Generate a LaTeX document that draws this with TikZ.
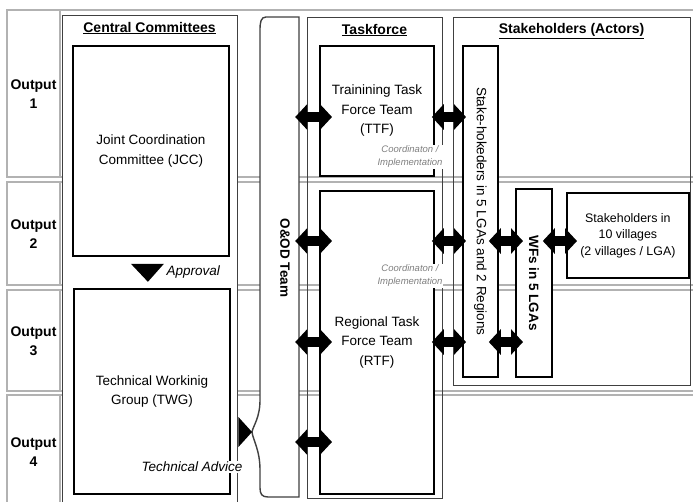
\documentclass[tikz,border=0pt]{standalone}
\usepackage{fontspec}
\setmainfont{Liberation Sans}
\usetikzlibrary{arrows.meta,calc}
\begin{document}
\begin{tikzpicture}[x=1pt,y=-1pt,
  band/.style={draw=gray!60, line width=1.1pt},
  colbox/.style={draw=black!75, line width=1.4pt, inner sep=0pt},
  inbox/.style={draw=black, line width=1.8pt, fill=white, inner sep=0pt, align=center, anchor=north west, font=\fontsize{13.5}{19.5}\selectfont},
  dbl/.style={line width=10pt, {Triangle[length=12pt,width=25pt]}-{Triangle[length=12pt,width=25pt]}},
  hdr/.style={font=\fontsize{14}{17}\selectfont\bfseries},
  outl/.style={font=\fontsize{14}{19}\selectfont\bfseries, align=center},
  vtxt/.style={rotate=-90, font=\fontsize{13.5}{16}\selectfont},
  note/.style={font=\fontsize{9.5}{13}\selectfont\itshape, text=gray, align=center, fill=white, inner sep=1pt},
  itl/.style={font=\fontsize{13.5}{16}\selectfont\itshape},
]
\useasboundingbox (0,0) rectangle (693,501);
\clip (0,0) rectangle (693,501);

% output bands
\draw[band] (7,10) rectangle (705,177);
\draw[band] (7,182) rectangle (705,285);
\draw[band] (7,290) rectangle (705,391);
\draw[band] (7,395) rectangle (705,510);
\foreach \a/\b in {10/177,182/285,290/391,395/510}{\draw[band] (60,\a) -- (60,\b);}
\node[outl] (o1) at (33.5,94) {Output\\1};
\node[outl] (o2) at (33.5,234) {Output\\2};
\node[outl] (o3) at (33.5,341) {Output\\3};
\node[outl] (o4) at (33.5,452) {Output\\4};

% columns
\node[colbox, fill=white, anchor=north west, minimum width=175pt, minimum height=500pt] (cc) at (62,15) {};
\node[hdr] (cch) at (149.5,28) {\underline{Central Committees}};

\node[draw=none, fill=none, inner sep=0pt, minimum width=39pt, minimum height=480pt] (ood) at (279.5,257) {};
\filldraw[colbox, fill=white] (299,17) -- (266,17) .. controls (261,17) and (260,22) .. (260,30) -- (260,400)
  .. controls (260,418) and (253,426) .. (252,432) .. controls (253,440) and (260,450) .. (260,470) -- (260,488)
  .. controls (260,494) and (262,497) .. (268,497) -- (299,497) -- cycle;
\node[vtxt, font=\fontsize{13.5}{16}\selectfont\bfseries] (oodt) at (285,258) {O\&OD Team};

\node[colbox, anchor=north west, minimum width=135pt, minimum height=481pt] (tf) at (307,17) {};
\node[hdr] (tfh) at (374.5,30) {\underline{Taskforce}};
\node[colbox, anchor=north west, minimum width=237pt, minimum height=368pt] (sh) at (453,17) {};
\node[hdr] (shh) at (571.5,31) {\underline{Stakeholders (Actors)}};

% inner boxes
\node[inbox, minimum width=156pt, minimum height=210pt] (jcc) at (72,45) {Joint Coordination\\Committee (JCC)};
\node[inbox, minimum width=156pt, minimum height=205pt] (twg) at (73,288) {Technical Workinig\\Group (TWG)};
\node[inbox, minimum width=114pt, minimum height=130pt] (ttf) at (319,45) {Trainining Task\\Force Team\\(TTF)};
\node[inbox, minimum width=114pt, minimum height=303pt] (rtf) at (319,190) {Regional Task\\Force Team\\(RTF)};
\node[inbox, minimum width=35pt, minimum height=331pt] (sh5) at (462,45) {};
\node[vtxt] (sh5t) at (sh5.center) {Stake-hokeders in 5 LGAs and 2 Regions};
\node[inbox, minimum width=36pt, minimum height=188pt] (wfs) at (515,188) {};
\node[vtxt, font=\fontsize{13.5}{16}\selectfont\bfseries] (wfst) at (wfs.center) {WFs in 5 LGAs};
\node[inbox, minimum width=122pt, minimum height=85pt, font=\fontsize{12.4}{16.5}\selectfont] (vil) at (566,192) {Stakeholders in\\10 villages\\(2 villages / LGA)};

% approval and technical advice
\fill ($(jcc.south)+(-20,7)$) -- ($(jcc.south)+(13,7)$) -- ($(jcc.south)+(-3,25)$) -- cycle;
\node[itl, anchor=west] (appr) at (163,272) {Approval};
\fill (cc.east |- 0,417) -- (cc.east |- 0,447) -- (252,432) -- cycle;

% arrows
\coordinate (r1) at (0,117);
\coordinate (r2) at (0,241);
\coordinate (r3) at (0,342);
\coordinate (r4) at (0,442);
\foreach \r/\t in {r1/ttf,r2/rtf,r3/rtf,r4/rtf}{
  \draw[dbl] ([xshift=-4pt]ood.east |- \r) -- ([xshift=13pt]\t.west |- \r);
}
\foreach \r/\t in {r1/ttf,r2/rtf,r3/rtf}{
  \draw[dbl] ([xshift=-3pt]\t.east |- \r) -- ([xshift=4pt]sh5.west |- \r);
}
\foreach \r in {r2,r3}{
  \draw[dbl] ([xshift=-10pt]sh5.east |- \r) -- ([xshift=8pt]wfs.west |- \r);
}
\draw[dbl] ([xshift=-10pt]wfs.east |- r2) -- ([xshift=11pt]vil.west |- r2);

% notes
\node[note] (n1) at (410,157) {Coordinaton /\\Implementation};
\node[note] (n2) at (410,276) {Coordinaton /\\Implementation};
\node[itl, fill=white, inner sep=1pt] (tadv) at (192,467) {Technical Advice};
\end{tikzpicture}
\end{document}
